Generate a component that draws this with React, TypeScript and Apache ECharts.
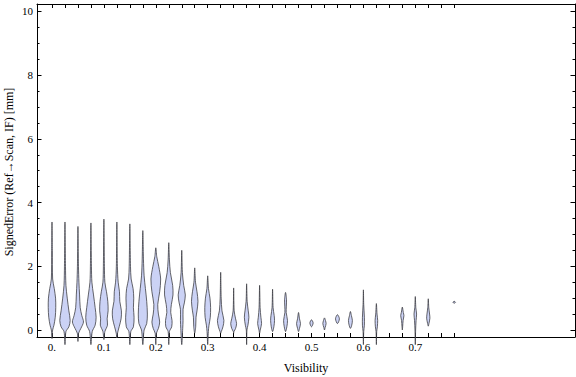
import React, { useEffect, useRef } from "react";
import * as echarts from "echarts";

// Violin positions (Visibility)
const VISIBILITY = [
  0, 0.025, 0.05, 0.075, 0.1, 0.125, 0.15, 0.175, 0.2, 0.225, 0.25, 0.275,
  0.3, 0.325, 0.35, 0.375, 0.4, 0.425, 0.45, 0.475, 0.5, 0.525, 0.55, 0.575,
  0.6, 0.625, 0.65, 0.675, 0.7, 0.725, 0.75, 0.775,
];

// Violin profiles: [signed error (mm), relative half-width], top to bottom
const PROFILES: number[][][] = [
  [[3.39, 0], [2.5, 0.05], [1.6, 0.1], [1.3, 0.35], [1.0, 0.55], [0.7, 0.58], [0.4, 0.5], [0.15, 0.3], [0.0, 0.1], [-0.27, 0]],
  [[3.39, 0], [2.0, 0.08], [1.4, 0.15], [1.0, 0.35], [0.6, 0.6], [0.3, 0.8], [0.1, 0.6], [-0.05, 0.15], [-0.46, 0]],
  [[3.25, 0], [2.0, 0.08], [1.5, 0.15], [1.1, 0.25], [0.7, 0.35], [0.45, 0.6], [0.25, 0.85], [0.05, 0.45], [-0.1, 0.1], [-0.36, 0]],
  [[3.36, 0], [2.0, 0.08], [1.5, 0.15], [1.1, 0.4], [0.7, 0.65], [0.4, 0.8], [0.15, 0.65], [-0.05, 0.2], [-0.46, 0]],
  [[3.48, 0], [2.0, 0.08], [1.5, 0.15], [1.2, 0.4], [0.9, 0.6], [0.6, 0.65], [0.35, 0.5], [0.15, 0.55], [-0.05, 0.15], [-0.3, 0]],
  [[3.39, 0], [2.0, 0.08], [1.5, 0.2], [1.2, 0.4], [0.9, 0.45], [0.6, 0.7], [0.35, 0.65], [0.1, 0.35], [-0.1, 0.1], [-0.25, 0]],
  [[3.33, 0], [2.0, 0.1], [1.6, 0.2], [1.3, 0.5], [1.0, 0.6], [0.7, 0.55], [0.4, 0.65], [0.1, 0.55], [-0.05, 0.15], [-0.46, 0]],
  [[3.12, 0], [2.2, 0.1], [1.7, 0.2], [1.3, 0.4], [0.9, 0.6], [0.5, 0.7], [0.2, 0.6], [0.0, 0.2], [-0.46, 0]],
  [[2.58, 0], [2.3, 0.15], [2.0, 0.45], [1.6, 0.75], [1.2, 0.6], [0.8, 0.3], [0.5, 0.4], [0.25, 0.6], [0.05, 0.4], [-0.1, 0.1], [-0.46, 0]],
  [[2.74, 0], [2.2, 0.1], [1.8, 0.25], [1.4, 0.6], [1.1, 0.65], [0.8, 0.4], [0.55, 0.3], [0.3, 0.5], [0.1, 0.45], [-0.05, 0.1], [-0.46, 0]],
  [[2.5, 0], [1.8, 0.1], [1.4, 0.3], [1.1, 0.55], [0.85, 0.4], [0.65, 0.2], [0.3, 0.2], [0.05, 0.15], [-0.46, 0]],
  [[1.95, 0], [1.5, 0.12], [1.2, 0.35], [0.9, 0.5], [0.6, 0.35], [0.4, 0.2], [0.1, 0.15], [-0.1, 0]],
  [[1.7, 0], [1.3, 0.12], [1.0, 0.35], [0.7, 0.45], [0.4, 0.4], [0.15, 0.2], [-0.05, 0.1], [-0.46, 0]],
  [[1.81, 0], [1.0, 0.08], [0.6, 0.2], [0.3, 0.5], [0.1, 0.35], [-0.05, 0.1], [-0.1, 0]],
  [[1.32, 0], [0.6, 0.08], [0.35, 0.3], [0.2, 0.45], [0.05, 0.3], [-0.05, 0.05], [-0.1, 0]],
  [[1.45, 0], [0.9, 0.08], [0.6, 0.25], [0.4, 0.35], [0.15, 0.2], [0.0, 0.05], [-0.46, 0]],
  [[1.4, 0], [0.7, 0.08], [0.4, 0.2], [0.2, 0.3], [0.0, 0.1], [-0.1, 0]],
  [[1.28, 0], [0.7, 0.08], [0.45, 0.25], [0.3, 0.3], [0.1, 0.2], [-0.05, 0]],
  [[1.18, 0], [0.95, 0.15], [0.75, 0.12], [0.55, 0.1], [0.3, 0.3], [0.1, 0.2], [-0.05, 0]],
  [[0.55, 0], [0.35, 0.15], [0.2, 0.3], [0.05, 0.15], [-0.05, 0]],
  [[0.32, 0], [0.22, 0.25], [0.1, 0]],
  [[0.38, 0], [0.3, 0.15], [0.2, 0.25], [0.08, 0.1], [0.0, 0]],
  [[0.48, 0], [0.35, 0.3], [0.2, 0]],
  [[0.58, 0], [0.45, 0.15], [0.3, 0.3], [0.15, 0.2], [0.05, 0]],
  [[1.26, 0], [0.8, 0.05], [0.4, 0.15], [0.15, 0.15], [-0.05, 0.05], [-0.46, 0]],
  [[0.83, 0], [0.5, 0.1], [0.3, 0.2], [0.1, 0.15], [-0.05, 0.05], [-0.46, 0]],
  [],
  [[0.72, 0], [0.55, 0.15], [0.45, 0.25], [0.3, 0.12], [0.1, 0.05], [0.0, 0]],
  [[1.05, 0], [0.7, 0.08], [0.5, 0.2], [0.3, 0.12], [0.0, 0.05], [-0.46, 0]],
  [[0.98, 0], [0.7, 0.08], [0.5, 0.2], [0.37, 0.25], [0.2, 0.1], [0.12, 0]],
  [],
  [[0.9, 0], [0.87, 0.2], [0.84, 0]],
];

const X_LABEL_VALUES = [0, 0.1, 0.2, 0.3, 0.4, 0.5, 0.6, 0.7];
const X_LABELS = ["0.", "0.1", "0.2", "0.3", "0.4", "0.5", "0.6", "0.7"];
const Y_MAJOR = [0, 2, 4, 6, 8, 10];
const Y_LABELS = ["0", "2", "4", "6", "8", "10"];
const Y_MINOR = [0.5, 1, 1.5, 2.5, 3, 3.5, 4.5, 5, 5.5, 6.5, 7, 7.5, 8.5, 9, 9.5];

const X_TITLE = "Visibility";
const Y_TITLE = "SignedError (Ref\u2192Scan, IF) [mm]";

const HALF = 0.0125; // x-units for relative half-width 1
const FONT = "Liberation Serif";

export default function App() {
  const ref = useRef<HTMLDivElement>(null);
  useEffect(() => {
    if (!ref.current) return;
    const chart = echarts.init(ref.current, undefined, { renderer: "svg" });
    const xMin = -0.0289;
    const xMax = 1.0077;
    const yMin = -0.22;
    const yMax = 10.232;
    const axisLineStyle = { color: "#000", width: 1 };
    const yAxisBase = (pos: string, vals: number[], len: number, showLine: boolean, labels: boolean) => ({
      type: "value",
      position: pos,
      min: yMin,
      max: yMax,
      axisLine: { show: showLine, onZero: false, lineStyle: axisLineStyle },
      axisTick: { show: true, inside: true, length: len, customValues: vals, lineStyle: { color: "#000", width: 1 } },
      axisLabel: labels
        ? {
            show: true,
            customValues: Y_MAJOR,
            formatter: (v: number) => {
              const k = Y_MAJOR.findIndex((t) => Math.abs(t - v) < 1e-9);
              return k >= 0 ? Y_LABELS[k] : "";
            },
            margin: 4,
            color: "#000",
            fontFamily: FONT,
            fontSize: 11,
          }
        : { show: false },
      splitLine: { show: false },
    });
    chart.setOption({
      animation: false,
      backgroundColor: "#fff",
      grid: { left: 37, right: 1, top: 4, bottom: 40, containLabel: false },
      xAxis: [
        {
          type: "value",
          position: "bottom",
          min: xMin,
          max: xMax,
          axisLine: { show: true, onZero: false, lineStyle: axisLineStyle },
          axisTick: { show: true, inside: true, length: 4, customValues: VISIBILITY, lineStyle: { color: "#000", width: 1 } },
          axisLabel: {
            show: true,
            customValues: X_LABEL_VALUES,
            formatter: (v: number) => {
              const k = X_LABEL_VALUES.findIndex((t) => Math.abs(t - v) < 1e-9);
              return k >= 0 ? X_LABELS[k] : "";
            },
            margin: 4,
            color: "#000",
            fontFamily: FONT,
            fontSize: 11,
          },
          splitLine: { show: false },
        },
        {
          type: "value",
          position: "top",
          min: xMin,
          max: xMax,
          axisLine: { show: true, onZero: false, lineStyle: axisLineStyle },
          axisTick: { show: true, inside: true, length: 4, customValues: VISIBILITY, lineStyle: { color: "#000", width: 1 } },
          axisLabel: { show: false },
          splitLine: { show: false },
        },
      ],
      yAxis: [
        yAxisBase("left", Y_MAJOR, 4.5, true, true),
        yAxisBase("left", Y_MINOR, 2.5, false, false),
        yAxisBase("right", Y_MAJOR, 4.5, true, false),
        yAxisBase("right", Y_MINOR, 2.5, false, false),
      ],
      graphic: [
        {
          type: "text",
          x: 306,
          y: 368,
          style: {
            text: X_TITLE,
            fill: "#000",
            font: `12px "${FONT}"`,
            textAlign: "center",
            textVerticalAlign: "middle",
          },
        },
        {
          type: "text",
          x: 9,
          y: 172,
          rotation: Math.PI / 2,
          style: {
            text: Y_TITLE,
            fill: "#000",
            font: `12px "${FONT}"`,
            textAlign: "center",
            textVerticalAlign: "middle",
          },
        },
      ],
      series: [
        {
          type: "custom",
          xAxisIndex: 0,
          yAxisIndex: 0,
          clip: false,
          data: VISIBILITY.map((v, i) => [v, i]),
          encode: { x: 0 },
          renderItem: (params: any, api: any) => {
            const x = api.value(0);
            const idx = api.value(1);
            const prof = PROFILES[idx];
            if (!prof || prof.length < 2) return { type: "group", children: [] };
            const right = prof.map(([y, w]) => api.coord([x + w * HALF, y]));
            const left = prof
              .slice(1, -1)
              .reverse()
              .map(([y, w]) => api.coord([x - w * HALF, y]));
            return {
              type: "polygon",
              shape: { points: right.concat(left), smooth: 0.3 },
              style: {
                fill: "#cbd2f5",
                stroke: "rgba(55,55,60,0.85)",
                lineWidth: 0.9,
              },
            };
          },
        },
      ],
    });
    return () => chart.dispose();
  }, []);
  return (
    <div
      ref={ref}
      style={{ position: "fixed", left: 0, top: 0, width: 576, height: 377 }}
    />
  );
}
